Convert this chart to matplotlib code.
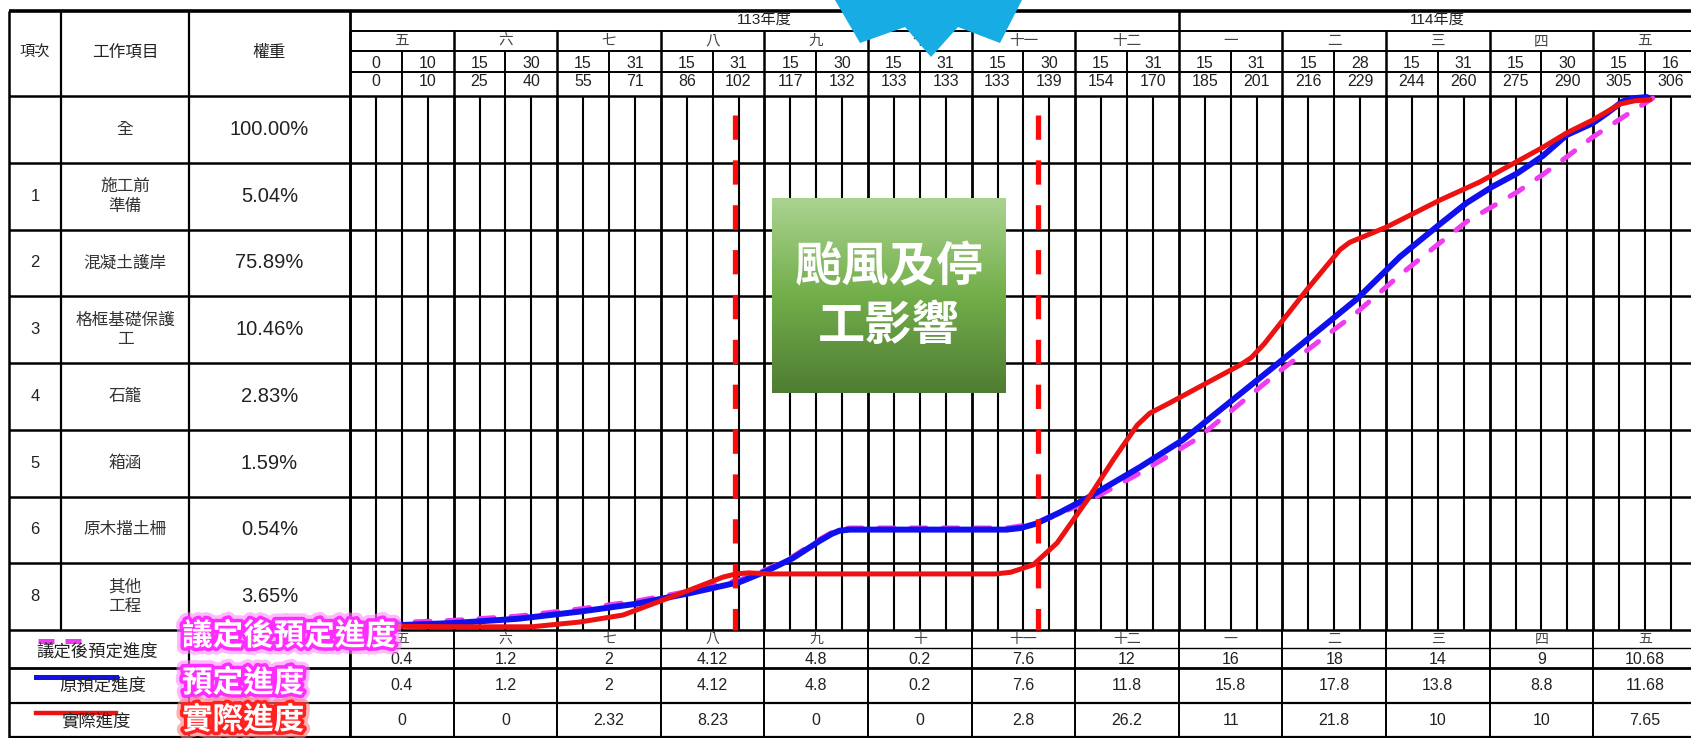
import numpy as np
import matplotlib
matplotlib.use('Agg')
import matplotlib.pyplot as plt
import matplotlib.patheffects as pe
from matplotlib.patches import Polygon

plt.rcParams['font.family'] = ['Liberation Sans', 'Noto Sans CJK TC', 'DejaVu Sans']

# ---- table contents ----
item_no = ['', '1', '2', '3', '4', '5', '6', '8']
item_name = ['全', '施工前\n準備', '混凝土護岸', '格框基礎保護\n工', '石籠', '箱涵', '原木擋土柵', '其他\n工程']
weights = ['100.00%', '5.04%', '75.89%', '10.46%', '2.83%', '1.59%', '0.54%', '3.65%']

years = ['113年度', '114年度']
year_months = [8, 5]
months = ['五', '六', '七', '八', '九', '十', '十一', '十二', '一', '二', '三', '四', '五']
days = [0, 10, 15, 30, 15, 31, 15, 31, 15, 30, 15, 31, 15, 30,
        15, 31, 15, 31, 15, 28, 15, 31, 15, 30, 15, 16]
cum_days = [0, 10, 25, 40, 55, 71, 86, 102, 117, 132, 133, 133, 133, 139,
            154, 170, 185, 201, 216, 229, 244, 260, 275, 290, 305, 306]

# monthly progress (%)
plan_new = ['0.4', '1.2', '2', '4.12', '4.8', '0.2', '7.6', '12', '16', '18', '14', '9', '10.68']
plan_old = ['0.4', '1.2', '2', '4.12', '4.8', '0.2', '7.6', '11.8', '15.8', '17.8', '13.8', '8.8', '11.68']
actual = ['0', '0', '2.32', '8.23', '0', '0', '2.8', '26.2', '11', '21.8', '10', '10', '7.65']

# S-curves: x = half-month column, y = cumulative %
old_x = [0.64, 1.99, 3.24, 4.48, 5.52, 6.56, 7.53, 8.01, 8.54, 9.07, 9.30, 9.45, 9.65, 12.68,
         12.95, 13.24, 13.7, 14.23, 15.25, 16.08, 17.95, 19.44, 20.27, 21.04, 21.56, 22.05,
         22.53, 23.03, 23.49, 23.99, 24.27, 24.57, 24.8, 25.04]
old_y = [0.8, 1.3, 2.1, 3.5, 4.9, 6.9, 9.0, 10.9, 13.4, 16.7, 18.0, 18.6, 18.8, 18.8,
         19.1, 19.9, 22.0, 24.7, 30.5, 35.6, 50.2, 62.0, 69.9, 76.0, 80.0, 83.0,
         85.5, 88.8, 92.7, 94.9, 96.8, 99.0, 99.6, 99.8]

new_x = [0.64, 1.99, 3.24, 4.48, 5.52, 6.56, 7.53, 8.01, 8.54, 9.07, 9.40, 9.65, 12.68,
         13.24, 14.23, 15.25, 16.35, 17.95, 19.44, 20.27, 21.04, 21.56, 22.53, 23.03,
         23.49, 23.99, 24.57, 25.15]
new_y = [1.3, 1.8, 2.6, 4.0, 5.4, 7.3, 9.4, 11.2, 13.7, 17.0, 18.8, 19.1, 19.1,
         19.9, 24.0, 29.4, 35.8, 48.5, 59.5, 66.5, 72.5, 76.5, 82.0, 85.3,
         88.6, 92.3, 96.0, 99.6]

act_x = [0.64, 2.32, 3.51, 4.44, 5.27, 5.93, 6.56, 7.20, 7.45, 7.7, 8.11, 12.45, 12.75,
         13.19, 13.65, 14.23, 14.73, 15.0, 15.2, 15.44, 15.8, 16.47, 17.18, 17.4, 17.65,
         18.47, 19.11, 19.3, 19.55, 20.02, 21.04, 21.81, 23.03, 23.49, 23.99, 24.52,
         24.8, 25.10]
act_y = [0.7, 0.6, 0.6, 1.5, 2.8, 5.2, 7.5, 9.9, 10.5, 10.7, 10.5, 10.5, 10.8,
         12.2, 16.3, 24.3, 31.8, 35.6, 38.4, 40.6, 42.4, 45.9, 49.6, 51.0, 53.6,
         63.7, 71.2, 72.6, 73.6, 75.5, 80.5, 83.9, 90.4, 93.1, 95.5, 98.5,
         99.1, 99.3]

stop_marks = [7.43, 13.28]   # typhoon / work-stop period

# ---- layout (pixels) ----
W, H = 1691, 738
XL, XC1, XC2, XC3 = 9, 61, 189, 350
CW = 51.8
NCOL = 26
hdr_y = [11, 31, 51, 72, 96]
body_y = np.linspace(96, 630, 9)
foot_y = [630, 648, 668, 703, 738]

fig = plt.figure(figsize=(W / 100, H / 100), dpi=100)
base = fig.add_axes([0, 0, 1, 1], zorder=0)
base.set_xlim(0, W)
base.set_ylim(H, 0)
base.axis('off')


def hl(y, x0, x1, lw=1.6):
    base.plot([x0, x1], [y, y], color='black', lw=lw, solid_capstyle='butt')


def vl(x, y0, y1, lw=1.6):
    base.plot([x, x], [y0, y1], color='black', lw=lw, solid_capstyle='butt')


# horizontal lines
hl(hdr_y[0], XL, W, 2.6)
for y in hdr_y[1:4]:
    hl(y, XC3, W, 1.4)
for y in body_y:
    hl(y, XL, W, 1.8)
hl(foot_y[1], XC3, W, 1.0)
hl(foot_y[2], XL, W, 2.0)
hl(foot_y[3], XL, W, 1.6)
hl(737, XL, W, 1.6)

# vertical lines
vl(XL, 11, 738, 1.8)
vl(XC1, 11, 630, 1.6)
vl(XC2, 11, 738, 1.6)
vl(XC3, 11, 738, 2.0)
for k in range(NCOL + 1):
    x = XC3 + CW * k
    if k == 16:
        vl(x, hdr_y[0], hdr_y[4], 1.8)
    elif k % 2 == 0:
        vl(x, hdr_y[1], hdr_y[4], 1.8)
    else:
        vl(x, hdr_y[2], hdr_y[4], 1.4)
    if k % 2 == 0:
        vl(x, foot_y[0], foot_y[4], 1.4)
for j in range(2 * NCOL + 1):
    x = XC3 + CW / 2 * j
    vl(x, body_y[0], body_y[-1], 2.0 if j % 4 == 0 else 1.5)

# header texts
tk = dict(ha='center', va='center', color='#222222')
base.text((XL + XC1) / 2, 53, '項次', fontsize=11, **tk)
base.text((XC1 + XC2) / 2, 53, '工作項目', fontsize=12, **tk)
base.text((XC2 + XC3) / 2, 53, '權重', fontsize=12, **tk)
start = 0
for yr, n in zip(years, year_months):
    base.text(XC3 + CW * (start + n), (hdr_y[0] + hdr_y[1]) / 2, yr, fontsize=11, **tk)
    start += 2 * n
for i, m in enumerate(months):
    base.text(XC3 + CW * (2 * i + 1), (hdr_y[1] + hdr_y[2]) / 2, m, fontsize=10.5,
              ha='center', va='center', color='#444444')
for k in range(NCOL):
    x = XC3 + CW * (k + 0.5)
    base.text(x, (hdr_y[2] + hdr_y[3]) / 2 + 2, str(days[k]), fontsize=11.5, **tk)
    base.text(x, (hdr_y[3] + hdr_y[4]) / 2 - 2, str(cum_days[k]), fontsize=11.5, **tk)

# body rows
for r in range(len(item_name)):
    yc = (body_y[r] + body_y[r + 1]) / 2
    base.text((XL + XC1) / 2, yc, item_no[r], fontsize=12, **tk)
    base.text((XC1 + XC2) / 2, yc, item_name[r], fontsize=12, linespacing=1.4,
              ha='center', va='center', color='#333333')
    base.text((XC2 + XC3) / 2, yc, weights[r], fontsize=14.5, **tk)

# footer rows
for i in range(len(months)):
    x = XC3 + CW * (2 * i + 1)
    base.text(x, (foot_y[0] + foot_y[1]) / 2, months[i], fontsize=10,
              ha='center', va='center', color='#444444')
    base.text(x, (foot_y[1] + foot_y[2]) / 2 + 1, plan_new[i], fontsize=11.5, **tk)
    base.text(x, (foot_y[2] + foot_y[3]) / 2, plan_old[i], fontsize=11.5, **tk)
    base.text(x, (foot_y[3] + foot_y[4]) / 2, actual[i], fontsize=11.5, **tk)

base.text(97, 652, '議定後預定進度', fontsize=12.5, **tk)
base.text(103, 687, '原預定進度', fontsize=12.5, **tk)
base.text(96, 722, '實際進度', fontsize=12.5, **tk)
base.plot([38, 92], [641, 641], color='#e83ce8', lw=3.6, dashes=(3.2, 2.2))
base.plot([36, 116], [677, 677], color='#1010e8', lw=3.6)
base.plot([36, 116], [713, 713], color='#ee1111', lw=3.2)

# ---- S-curves ----
cv = fig.add_axes([XC3 / W, (H - body_y[-1]) / H, CW * NCOL / W, (body_y[-1] - body_y[0]) / H],
                  zorder=1)
cv.patch.set_alpha(0)
cv.set_xlim(0, NCOL)
cv.set_ylim(0, 100)
cv.axis('off')
cv.plot(new_x, new_y, color='#ee3cee', lw=3.6, dashes=(3.0, 3.4), dash_capstyle='round',
        clip_on=False)
cv.plot(old_x, old_y, color='#1010ee', lw=4.3, solid_joinstyle='round',
        solid_capstyle='round', clip_on=False)
cv.plot(act_x, act_y, color='#ee1111', lw=3.6, solid_joinstyle='round',
        solid_capstyle='round', clip_on=False)
for xm in stop_marks:
    cv.plot([xm, xm], [96.5, 0], color='#ff0a0a', lw=3.8, dashes=(4.6, 3.9), clip_on=False)

# ---- overlays ----
top = fig.add_axes([0, 0, 1, 1], zorder=2)
top.patch.set_alpha(0)
top.axis('off')

c_top = np.array([0xab, 0xd3, 0x90]) / 255
c_mid = np.array([0x72, 0xae, 0x4a]) / 255
c_bot = np.array([0x4f, 0x7c, 0x33]) / 255
t = np.linspace(0, 1, 200)[:, None]
grad = np.where(t < 0.5, c_top + (c_mid - c_top) * (t / 0.5), c_mid + (c_bot - c_mid) * ((t - 0.5) / 0.5))
top.imshow(grad[:, None, :], extent=[772, 1006, 393, 198], aspect='auto', zorder=1)
top.text(889, 267, '颱風及停', fontsize=34, fontweight='bold', color='white',
         ha='center', va='center', family=['Noto Sans CJK TC'], zorder=2)
top.text(889, 326, '工影響', fontsize=34, fontweight='bold', color='white',
         ha='center', va='center', family=['Noto Sans CJK TC'], zorder=2)

star = Polygon([(835, 0), (860, 43), (905, 27), (931, 57), (958, 27), (1000, 43), (1022, 0)],
               closed=True, facecolor='#17ace3', edgecolor='none', zorder=3)
top.add_patch(star)

glow_pink = [pe.Stroke(linewidth=10, foreground='#ff8cff', alpha=0.6),
             pe.Stroke(linewidth=5, foreground='#ff2cff'), pe.Normal()]
glow_red = [pe.Stroke(linewidth=10, foreground='#ff8080', alpha=0.6),
            pe.Stroke(linewidth=5, foreground='#ff2020'), pe.Normal()]
ov = dict(fontsize=22, fontweight='bold', color='white', ha='left', va='center',
          family=['Noto Sans CJK TC'], zorder=4)
top.text(182, 636, '議定後預定進度', path_effects=glow_pink, **ov)
top.text(182, 683, '預定進度', path_effects=glow_pink, **ov)
top.text(182, 720, '實際進度', path_effects=glow_red, **ov)

top.set_xlim(0, W)
top.set_ylim(H, 0)

fig.savefig('out.png', dpi=100)
